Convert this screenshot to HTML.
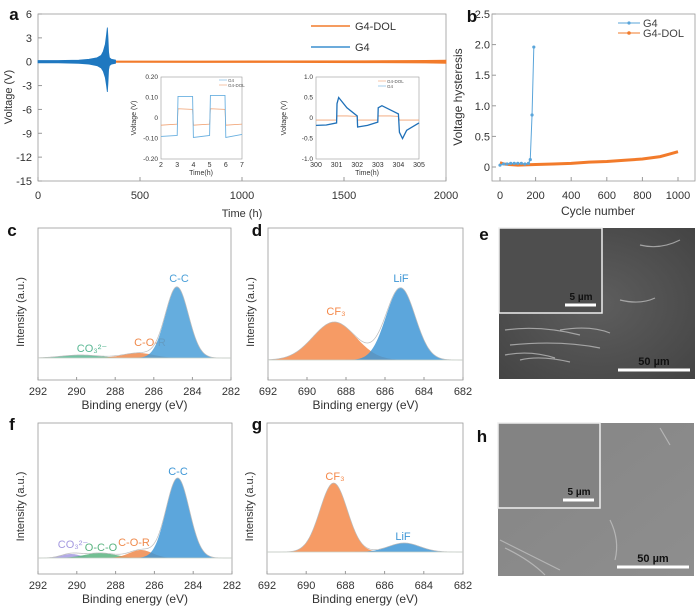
<!DOCTYPE html>
<html><head><meta charset="utf-8"><style>
body{margin:0;background:#fff;width:700px;height:610px;overflow:hidden}
svg{display:block;font-family:"Liberation Sans",sans-serif}
</style></head><body>
<svg id="fig" width="700" height="610" viewBox="0 0 700 610">
<defs>
<radialGradient id="semE" cx="50%" cy="50%" r="70%"><stop offset="0" stop-color="#5e5e5e"/><stop offset="1" stop-color="#444"/></radialGradient>
<linearGradient id="semH" x1="0" y1="0" x2="1" y2="1"><stop offset="0" stop-color="#858585"/><stop offset="1" stop-color="#8e8e8e"/></linearGradient>
</defs>
<g id="root"></g>
</svg>
<script>
// ---------- data ----------
const aG4Time=[0,100,200,250,290,310,320,330,336,340,343,346,350,360,380];
const aG4Top=[0.15,0.15,0.2,0.3,0.5,0.8,1.3,2.2,3.4,4.3,3,1.2,0.5,0.3,0.2];
const aG4Bot=[-0.15,-0.15,-0.2,-0.3,-0.5,-0.8,-1.2,-2,-3,-3.8,-2.6,-1,-0.5,-0.3,-0.2];
const aDolTime=[380,800,1200,1600,1900,2000];
const aDolAmp=[0.08,0.09,0.1,0.12,0.16,0.2];
const aXTicks=[0,500,1000,1500,2000];
const aYTicks=[6,3,0,-3,-6,-9,-12,-15];
const in1Time=[2,3,3.05,3.95,4,5,5.05,5.95,6,7];
const in1G4=[-0.09,-0.085,0.105,0.105,-0.095,-0.085,0.11,0.11,-0.095,-0.08];
const in1Dol=[-0.035,-0.03,0.045,0.042,-0.035,-0.03,0.045,0.042,-0.035,-0.03];
const in2Time=[300,300.5,301,301.02,301.1,301.5,302,302.02,302.5,303,303.02,303.2,303.6,304,304.05,304.2,304.4,305];
const in2G4=[-0.18,-0.17,-0.12,0.35,0.5,0.25,0.05,-0.22,-0.18,-0.1,0.25,0.3,0.2,0.1,-0.35,-0.5,-0.3,-0.12];
const in2Dol=[-0.05,-0.05,-0.05,0.05,0.05,0.05,0.04,-0.05,-0.05,-0.05,0.05,0.05,0.05,0.04,-0.05,-0.05,-0.05,-0.05];
const bG4Cycle=[0,20,40,60,80,100,120,140,160,170,180,190];
const bG4Val=[0.03,0.05,0.05,0.06,0.06,0.06,0.06,0.05,0.06,0.12,0.85,1.96];
const bDolCycle=[0,20,50,100,200,300,400,500,600,700,800,900,950,1000];
const bDolVal=[0.07,0.05,0.04,0.03,0.04,0.05,0.06,0.08,0.09,0.11,0.13,0.17,0.21,0.25];
const bXTicks=[0,200,400,600,800,1000];
const bYTicks=[0,0.5,1.0,1.5,2.0,2.5];
const cCenters=[289.8,286.8,284.8];const cHeights=[3,5,71];const cSigmas=[1.0,0.8,0.6];
const cLabels=["CO₃²⁻","C-O-R","C-C"];
const dCenters=[688.6,685.2];const dHeights=[38,72];const dSigmas=[1.1,0.75];
const dLabels=["CF₃","LiF"];
const fCenters=[290.3,288.8,286.7,284.8];const fHeights=[4,5,8,80];const fSigmas=[0.5,0.8,0.6,0.6];
const fLabels=["CO₃²⁻","O-C-O","C-O-R","C-C"];
const gCenters=[688.6,685.0];const gHeights=[69,9];const gSigmas=[0.7,0.8];
const gLabels=["CF₃","LiF"];
const cTicks=[292,290,288,286,284,282];
const dTicks=[692,690,688,686,684,682];

// ---------- helpers ----------
const NS="http://www.w3.org/2000/svg";
const root=document.getElementById('root');
function el(tag,attrs,parent){const e=document.createElementNS(NS,tag);for(const k in attrs)e.setAttribute(k,attrs[k]);(parent||root).appendChild(e);return e;}
function txt(x,y,s,size,fill,anchor,parent,rot){const t=el('text',{x:x,y:y,'font-size':size,fill:fill||'#222','text-anchor':anchor||'middle'},parent);if(rot)t.setAttribute('transform',`rotate(${rot} ${x} ${y})`);t.textContent=s;return t;}
function lin(d0,d1,r0,r1){return v=>r0+(v-d0)/(d1-d0)*(r1-r0);}
const BLUE='#3b8fcf',ORANGE='#f27b2b';

// ---------- panel a ----------
{
const g=el('g',{});

const X=lin(0,2000,38,446),Y=lin(6,-15,14,181);
el('rect',{x:38,y:14,width:408,height:167,fill:'none',stroke:'#999','stroke-width':0.8},g);
txt(14,20,'a',17,'#111','middle',g).setAttribute('font-weight','bold');
aXTicks.forEach(v=>{el('line',{x1:X(v),y1:181,x2:X(v),y2:177,stroke:'#999'},g);txt(X(v),199,v,11,'#333','middle',g);});
aYTicks.forEach(v=>{el('line',{x1:38,y1:Y(v),x2:42,y2:Y(v),stroke:'#999'},g);txt(32,Y(v)+4,v,11,'#333','end',g);});
txt(242,217,'Time (h)',11,'#333','middle',g);
txt(12,97,'Voltage (V)',11,'#333','middle',g,-90);
let p='';aDolTime.forEach((t,i)=>p+=(i?'L':'M')+X(t)+','+Y(aDolAmp[i]));
for(let i=aDolTime.length-1;i>=0;i--)p+='L'+X(aDolTime[i])+','+Y(-aDolAmp[i]);
const dol=el('path',{d:p+'Z',fill:ORANGE,stroke:ORANGE,'stroke-width':0.8},g);

p='';aG4Time.forEach((t,i)=>p+=(i?'L':'M')+X(t)+','+Y(aG4Top[i]));
for(let i=aG4Time.length-1;i>=0;i--)p+='L'+X(aG4Time[i])+','+Y(aG4Bot[i]);
const g4=el('path',{d:p+'Z',fill:'#1f78c0',stroke:'#1f78c0','stroke-width':0.8},g);

const lg=el('g',{},g);
el('line',{x1:311,y1:26,x2:350,y2:26,stroke:ORANGE,'stroke-width':1.5},lg);txt(355,30,'G4-DOL',11,'#333','start',lg);
el('line',{x1:311,y1:47,x2:350,y2:47,stroke:BLUE,'stroke-width':1.5},lg);txt(355,51,'G4',11,'#333','start',lg);
const i1=el('g',{},g);
const X1=lin(2,7,161,242),Y1=lin(0.2,-0.2,77,159);
el('rect',{x:161,y:77,width:81,height:82,fill:'#fff',stroke:'#999','stroke-width':0.6},i1);
[2,3,4,5,6,7].forEach(v=>txt(X1(v),167,v,7,'#333','middle',i1));
[[0.2,'0.20'],[0.1,'0.10'],[0,'0'],[-0.1,'-0.10'],[-0.2,'-0.20']].forEach(a=>txt(158,Y1(a[0])+2,a[1],6.5,'#333','end',i1));
txt(201,175,'Time(h)',7,'#333','middle',i1);txt(136,118,'Voltage (V)',7,'#333','middle',i1,-90);
let q='';in1Time.forEach((t,i)=>q+=(i?'L':'M')+X1(t)+','+Y1(in1Dol[i]));el('path',{d:q,fill:'none',stroke:'#f0a070','stroke-width':0.8},i1);
q='';in1Time.forEach((t,i)=>q+=(i?'L':'M')+X1(t)+','+Y1(in1G4[i]));el('path',{d:q,fill:'none',stroke:'#6ab0e0','stroke-width':0.9},i1);
el('line',{x1:219,y1:80,x2:227,y2:80,stroke:'#6ab0e0','stroke-width':0.6},i1);txt(228,82,'G4',4.5,'#555','start',i1);
el('line',{x1:219,y1:85,x2:227,y2:85,stroke:'#f0a070','stroke-width':0.6},i1);txt(228,87,'G4-DOL',4.5,'#555','start',i1);
const i2=el('g',{},g);
const X2=lin(300,305,316,419),Y2=lin(1,-1,77,159);
el('rect',{x:316,y:77,width:103,height:82,fill:'#fff',stroke:'#999','stroke-width':0.6},i2);
[300,301,302,303,304,305].forEach(v=>txt(X2(v),167,v,7,'#333','middle',i2));
[[1,'1.0'],[0.5,'0.5'],[0,'0'],[-0.5,'-0.5'],[-1,'-1.0']].forEach(a=>txt(313,Y2(a[0])+2,a[1],6.5,'#333','end',i2));
txt(367,175,'Time(h)',7,'#333','middle',i2);txt(286,118,'Voltage (V)',7,'#333','middle',i2,-90);
q='';in2Time.forEach((t,i)=>q+=(i?'L':'M')+X2(t)+','+Y2(in2Dol[i]));el('path',{d:q,fill:'none',stroke:'#f0a070','stroke-width':0.8},i2);
q='';in2Time.forEach((t,i)=>q+=(i?'L':'M')+X2(t)+','+Y2(in2G4[i]));el('path',{d:q,fill:'none',stroke:'#1f70b8','stroke-width':1.3},i2);
el('line',{x1:378,y1:81,x2:386,y2:81,stroke:'#f0a070','stroke-width':0.6},i2);txt(387,83,'G4-DOL',4.5,'#555','start',i2);
el('line',{x1:378,y1:86,x2:386,y2:86,stroke:'#6ab0e0','stroke-width':0.6},i2);txt(387,88,'G4',4.5,'#555','start',i2);
}

// ---------- panel b ----------
{
const g=el('g',{});

const X=lin(0,1000,500,678),Y=lin(0,2.5,167,14);
el('rect',{x:492,y:14,width:203,height:167,fill:'none',stroke:'#999','stroke-width':0.8},g);
txt(472,22,'b',17,'#111','middle',g).setAttribute('font-weight','bold');
bXTicks.forEach(v=>{el('line',{x1:X(v),y1:181,x2:X(v),y2:177,stroke:'#999'},g);txt(X(v),199,v,11,'#333','middle',g);});
bYTicks.forEach(v=>{el('line',{x1:492,y1:Y(v),x2:496,y2:Y(v),stroke:'#999'},g);txt(490,Y(v)+4,v===0?'0':v.toFixed(1),11,'#333','end',g);});
txt(598,215,'Cycle number',12,'#333','middle',g);
txt(462,97,'Voltage hysteresis',12,'#333','middle',g,-90);
let p='';bDolCycle.forEach((c,i)=>p+=(i?'L':'M')+X(c)+','+Y(bDolVal[i]));
const dl=el('path',{d:p,fill:'none',stroke:ORANGE,'stroke-width':3},g);

p='';bG4Cycle.forEach((c,i)=>p+=(i?'L':'M')+X(c)+','+Y(bG4Val[i]));
const gl=el('path',{d:p,fill:'none',stroke:'#5aa5da','stroke-width':1},g);

bG4Cycle.forEach((c,i)=>{const m=el('circle',{cx:X(c),cy:Y(bG4Val[i]),r:1.6,fill:'#5aa5da'},g);});
const lg=el('g',{},g);
el('line',{x1:618,y1:23,x2:640,y2:23,stroke:'#5aa5da'},lg);el('circle',{cx:629,cy:23,r:1.6,fill:'#5aa5da'},lg);txt(643,27,'G4',11,'#444','start',lg);
el('line',{x1:618,y1:33,x2:640,y2:33,stroke:ORANGE},lg);el('circle',{cx:629,cy:33,r:1.8,fill:ORANGE},lg);txt(643,37,'G4-DOL',11,'#444','start',lg);
}

// ---------- XPS panels ----------
function xps(name,letter,lx,ly,box,dom,ticks,base,centers,heights,sigmas,labels,colors,labPos){
const g=el('g',{});

const [x0,y0,x1,y1]=box;const X=lin(dom[0],dom[1],x0,x1);
el('rect',{x:x0,y:y0,width:x1-x0,height:y1-y0,fill:'none',stroke:'#999','stroke-width':0.8},g);
txt(lx,ly,letter,17,'#111','middle',g).setAttribute('font-weight','bold');
ticks.forEach(v=>{el('line',{x1:X(v),y1:y1,x2:X(v),y2:y1-3,stroke:'#999'},g);txt(X(v),y1+15,v,11,'#333','middle',g);});
txt((x0+x1)/2,y1+29,'Binding energy (eV)',12,'#333','middle',g);
txt(x0-14,(y0+y1)/2+8,'Intensity (a.u.)',11,'#333','middle',g,-90);
let env=[];
centers.forEach((c,k)=>{
 let d='M'+X(dom[0])+','+base;
 for(let i=0;i<=200;i++){const e=dom[0]+(dom[1]-dom[0])*i/200;const v=heights[k]*Math.exp(-0.5*((e-c)/sigmas[k])**2);d+='L'+X(e)+','+(base-v);env[i]=(env[i]||0)+v;}
 d+='L'+X(dom[1])+','+base+'Z';
 const pk=el('path',{d:d,fill:colors[k],'fill-opacity':0.85,stroke:'none'},g);
 
 txt(labPos[k][0],labPos[k][1],labels[k],11,colors[k],'middle',g);
});
let d='';env.forEach((v,i)=>{const e=dom[0]+(dom[1]-dom[0])*i/200;d+=(i?'L':'M')+X(e)+','+(base-v);});
el('path',{d:d,fill:'none',stroke:'#bbb','stroke-width':0.7},g);
el('line',{x1:x0,y1:base,x2:x1,y2:base,stroke:'#c8d0c8','stroke-width':0.8},g);
}
xps('panel-c-c1s','c',12,236,[38,228,231,380],[292,282],cTicks,358,cCenters,cHeights,cSigmas,cLabels,['#5ab894','#ef8a4c','#4a9fd8'],[[92,352],[150,346],[179,282]]);
xps('panel-d-f1s','d',257,236,[268,228,463,380],[692,682],dTicks,360,dCenters,dHeights,dSigmas,dLabels,['#f5894a','#3f97d6'],[[336,315],[401,282]]);
xps('panel-f-c1s','f',12,430,[38,423,232,574],[292,282],cTicks,558,fCenters,fHeights,fSigmas,fLabels,['#a59ae0','#5ab480','#ef8a4c','#3f97d6'],[[73,548],[101,551],[134,546],[178,475]]);
xps('panel-g-f1s','g',257,430,[267,423,463,574],[692,682],dTicks,552,gCenters,gHeights,gSigmas,gLabels,['#f5894a','#3f97d6'],[[335,480],[403,540]]);

// ---------- SEM images ----------
function sem(name,letter,lx,ly,box,inset,fill,insetFill,lines){
const g=el('g',{});

txt(lx,ly,letter,17,'#111','middle',g).setAttribute('font-weight','bold');
el('rect',{x:box[0],y:box[1],width:box[2],height:box[3],fill:fill},g);
lines.forEach(l=>el('path',{d:l,stroke:'#c8c8c8','stroke-width':1.2,fill:'none','stroke-opacity':0.7},g));
el('rect',{x:inset[0],y:inset[1],width:inset[2],height:inset[3],fill:insetFill,stroke:'#eee','stroke-width':1.5},g);
const x2=box[0]+box[2],y2=box[1]+box[3];
el('line',{x1:x2-77,y1:y2-9,x2:x2-5,y2:y2-9,stroke:'#fff','stroke-width':3},g);
txt(x2-41,y2-14,'50 µm',11,'#111','middle',g).setAttribute('font-weight','bold');
const ix2=inset[0]+inset[2],iy2=inset[1]+inset[3];
el('line',{x1:ix2-37,y1:iy2-8,x2:ix2-6,y2:iy2-8,stroke:'#fff','stroke-width':3},g);
txt(ix2-21,iy2-13,'5 µm',10,'#111','middle',g).setAttribute('font-weight','bold');
}
sem('panel-e-sem','e',484,240,[499,228,196,151],[499,228,103,85],'url(#semE)','#4e4e4e',
 ['M505,330 Q540,325 580,335','M510,345 Q560,340 600,348','M520,360 Q540,355 570,362','M525,250 L545,275','M560,255 L575,290','M545,290 L540,300','M640,245 Q660,250 680,240','M620,300 Q640,305 655,298','M505,355 Q530,350 555,358','M560,330 Q590,325 610,333']);
sem('panel-h-sem','h',482,442,[498,423,196,153],[498,423,102,85],'url(#semH)','#838383',
 ['M500,540 Q530,555 560,570','M505,548 Q530,560 545,575','M660,428 L670,445','M610,520 Q620,540 615,560']);
</script>
</body></html>
